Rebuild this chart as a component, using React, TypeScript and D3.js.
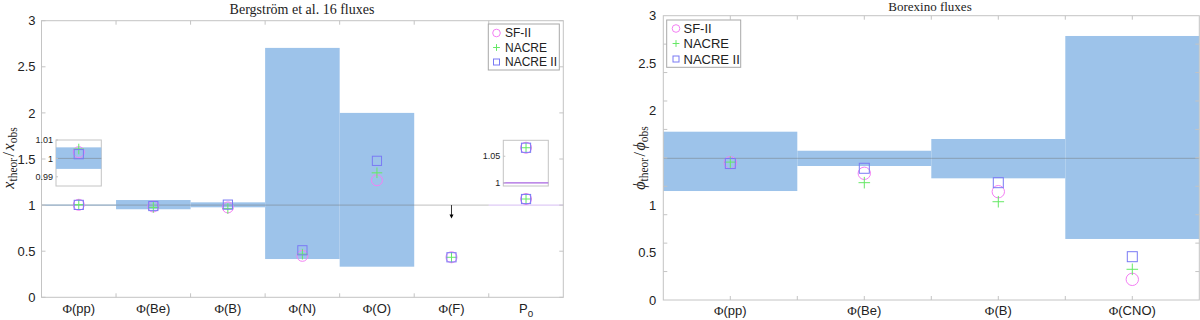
import React from "react";
import * as d3 from "d3";

// ---------- data: left panel (Bergström et al. 16 fluxes) ----------
const leftCats = ["pp", "Be", "B", "N", "O", "F", "P0"];
const leftSF2 = [1.0034, 0.985, 0.975, 0.45, 1.27, 0.434, 1.066];
const leftNACRE = [1.0051, 0.975, 0.962, 0.468, 1.35, 0.434, 1.066];
const leftNACRE2 = [1.0023, 0.99, 1.005, 0.51, 1.48, 0.434, 1.066];
const leftBandLow = [0.9943, 0.955, 0.976, 0.415, 0.332, null, null];
const leftBandHigh = [1.006, 1.055, 1.03, 2.705, 2.0, null, null];
const leftUpperLimit = { cat: 6, from: 1.0, to: 0.855 };
const leftYTicks = [0, 0.5, 1, 1.5, 2, 2.5, 3];
const leftYTickLabels = ["0", "0.5", "1", "1.5", "2", "2.5", "3"];
const ppInsetTicks = [0.99, 1, 1.01];
const ppInsetTickLabels = ["0.99", "1", "1.01"];
const p0InsetTicks = [1, 1.05];
const p0InsetTickLabels = ["1", "1.05"];

// ---------- data: right panel (Borexino fluxes) ----------
const rightCats = ["pp", "Be", "B", "CNO"];
const rightSF2 = [1.449, 1.337, 1.143, 0.218];
const rightNACRE = [1.455, 1.238, 1.037, 0.324];
const rightNACRE2 = [1.44, 1.39, 1.238, 0.457];
const rightBandLow = [1.15, 1.414, 1.284, 0.644];
const rightBandHigh = [1.776, 1.575, 1.699, 2.786];
const rightRef = 1.495;
const rightYTickLabelValues = [0, 0.5, 1, 2, 2.5, 3];
const rightYTickLabels = ["0", "0.5", "1", "2", "2.5", "3"];
const rightYTickMarks = [0.3, 0.6, 0.9, 1.2, 1.5, 1.8, 2.1, 2.4, 2.7];

const seriesNames = ["SF-II", "NACRE", "NACRE II"];

const BAND = "#9dc3ea";
const C_CIRCLE = "#f47ff4";
const C_PLUS = "#66e866";
const C_SQUARE = "#7a7af4";
const FRAME = "#c4c4c4";
const TXT = "#222";
const SANS = "'Liberation Sans', Arial, Helvetica, sans-serif";
const SERIF = "'Liberation Serif', 'Times New Roman', serif";

type MProps = { x: number; y: number; s: number };
const Circle = ({ x, y, s }: MProps) => (
  <circle cx={x} cy={y} r={s} fill="none" stroke={C_CIRCLE} strokeWidth={1} />
);
const Plus = ({ x, y, s }: MProps) => (
  <path d={`M${x - s},${y}H${x + s}M${x},${y - s}V${y + s}`} stroke={C_PLUS} strokeWidth={1} fill="none" />
);
const Square = ({ x, y, s }: MProps) => (
  <rect x={x - s} y={y - s} width={2 * s} height={2 * s} fill="none" stroke={C_SQUARE} strokeWidth={1} />
);

function Markers({ x, ys, size }: { x: number; ys: number[]; size: number[] }) {
  return (
    <g>
      <Circle x={x} y={ys[0]} s={size[0]} />
      <Plus x={x} y={ys[1]} s={size[1]} />
      <Square x={x} y={ys[2]} s={size[2]} />
    </g>
  );
}

function Legend({ x, y, w, h, rowY, mx, tx, fs, size }: any) {
  return (
    <g>
      <rect x={x} y={y} width={w} height={h} fill="#fff" stroke="#a8a8a8" strokeWidth={1} />
      <Circle x={mx} y={rowY[0]} s={size[0]} />
      <Plus x={mx} y={rowY[1]} s={size[1]} />
      <Square x={mx} y={rowY[2]} s={size[2]} />
      {seriesNames.map((n, i) => (
        <text key={n} x={tx} y={rowY[i]} dy="0.36em" fontFamily={SANS} fontSize={fs} fill={TXT}>
          {n}
        </text>
      ))}
    </g>
  );
}

function CatLabel({ x, y, cat, fs }: { x: number; y: number; cat: string; fs: number }) {
  if (cat === "P0") {
    return (
      <text x={x} y={y} textAnchor="middle" fontFamily={SANS} fontSize={fs} fill={TXT}>
        P<tspan fontSize={fs * 0.75} dy={4}>0</tspan>
      </text>
    );
  }
  return (
    <text x={x} y={y} textAnchor="middle" fontFamily={SANS} fontSize={fs} fill={TXT}>
      <tspan fontFamily={SERIF}>Φ</tspan>({cat})
    </text>
  );
}

function YLabel({ x, y, sym }: { x: number; y: number; sym: string }) {
  return (
    <text transform={`translate(${x},${y}) rotate(-90)`} textAnchor="middle" fontFamily={SERIF} fill={TXT}>
      <tspan fontStyle="italic" fontSize={16}>{sym}</tspan>
      <tspan fontSize={11.5} dy={2.5}>theor</tspan>
      <tspan fontSize={16} dy={-2.5} dx={1.5}>/</tspan>
      <tspan fontStyle="italic" fontSize={16} dx={1.5}>{sym}</tspan>
      <tspan fontSize={11.5} dy={2.5}>obs</tspan>
    </text>
  );
}

function LeftPanel() {
  const x = d3.scaleLinear().domain([0.5, 7.5]).range([41.5, 563.3]);
  const y = d3.scaleLinear().domain([0, 3]).range([297.3, 20.7]);
  const [x0, x1] = x.range();
  const [yb, yt] = y.range();
  const bounds = d3.range(1.5, 7.5, 1);

  // insets
  const ppIn = { x0: 56, x1: 101.3 };
  const ppY = d3.scaleLinear().domain([0.985, 1.01]).range([186, 140]);
  const p0In = { x0: 503.3, x1: 548.3 };
  const p0Y = d3.scaleLinear().domain([0.994, 1.08]).range([186, 140.3]);

  return (
    <g>
      <text x={302} y={14} textAnchor="middle" fontFamily={SERIF} fontSize={14} fill={TXT}>
        Bergström et al. 16 fluxes
      </text>
      {/* bands */}
      {leftCats.map((c, i) =>
        leftBandLow[i] == null ? null : (
          <rect
            key={"b" + c}
            x={x(i + 0.5)}
            y={y(leftBandHigh[i] as number)}
            width={x(i + 1.5) - x(i + 0.5)}
            height={y(leftBandLow[i] as number) - y(leftBandHigh[i] as number)}
            fill={BAND}
          />
        )
      )}
      {/* reference line */}
      <line x1={x0} x2={x(6.5)} y1={y(1)} y2={y(1)} stroke="#707070" strokeOpacity={0.45} strokeWidth={1} />
      <line x1={x(6.5)} x2={x1} y1={y(1)} y2={y(1)} stroke="#c9a6ee" strokeOpacity={0.6} strokeWidth={1.3} />
      {/* frame */}
      <rect x={x0} y={yt} width={x1 - x0} height={yb - yt} fill="none" stroke={FRAME} strokeWidth={1} />
      {bounds.map((b) => (
        <g key={"xt" + b}>
          <line x1={x(b)} x2={x(b)} y1={yb} y2={yb - 4} stroke={FRAME} />
          <line x1={x(b)} x2={x(b)} y1={yt} y2={yt + 4} stroke={FRAME} />
        </g>
      ))}
      {leftYTicks.map((t, i) => (
        <g key={"yt" + t}>
          <line x1={x0} x2={x0 + 4} y1={y(t)} y2={y(t)} stroke={FRAME} />
          <line x1={x1} x2={x1 - 4} y1={y(t)} y2={y(t)} stroke={FRAME} />
          <text x={x0 - 6} y={y(t)} dy="0.36em" textAnchor="end" fontFamily={SANS} fontSize={13} fill={TXT}>
            {leftYTickLabels[i]}
          </text>
        </g>
      ))}
      {leftCats.map((c, i) => (
        <CatLabel key={"xl" + c} x={x(i + 1)} y={313} cat={c} fs={13} />
      ))}
      {/* upper limit arrow */}
      <line
        x1={x(leftUpperLimit.cat)}
        x2={x(leftUpperLimit.cat)}
        y1={y(leftUpperLimit.from)}
        y2={y(leftUpperLimit.to) - 3}
        stroke="#000"
        strokeWidth={0.8}
      />
      <path
        d={`M${x(leftUpperLimit.cat) - 2},${y(leftUpperLimit.to) - 4}L${x(leftUpperLimit.cat) + 2},${
          y(leftUpperLimit.to) - 4
        }L${x(leftUpperLimit.cat)},${y(leftUpperLimit.to)}Z`}
        fill="#000"
      />
      {/* markers */}
      {leftCats.map((c, i) => (
        <Markers
          key={"m" + c}
          x={x(i + 1)}
          ys={[y(leftSF2[i]), y(leftNACRE[i]), y(leftNACRE2[i])]}
          size={[5.5, 5.3, 4.6]}
        />
      ))}
      {/* pp inset */}
      <g>
        <rect x={ppIn.x0} y={ppY(1.01)} width={ppIn.x1 - ppIn.x0} height={ppY(0.985) - ppY(1.01)} fill="#fff" stroke={FRAME} />
        <rect
          x={ppIn.x0}
          y={ppY(leftBandHigh[0] as number)}
          width={ppIn.x1 - ppIn.x0}
          height={ppY(leftBandLow[0] as number) - ppY(leftBandHigh[0] as number)}
          fill={BAND}
        />
        <line x1={ppIn.x0} x2={ppIn.x1} y1={ppY(1)} y2={ppY(1)} stroke="#707070" strokeOpacity={0.45} />
        {ppInsetTicks.map((t, i) => (
          <g key={"pit" + t}>
            <line x1={ppIn.x0} x2={ppIn.x0 + 2} y1={ppY(t)} y2={ppY(t)} stroke={FRAME} />
            <text x={ppIn.x0 - 3} y={ppY(t)} dy="0.36em" textAnchor="end" fontFamily={SANS} fontSize={9} fill={TXT}>
              {ppInsetTickLabels[i]}
            </text>
          </g>
        ))}
        <Markers x={x(1)} ys={[ppY(leftSF2[0]), ppY(leftNACRE[0]), ppY(leftNACRE2[0])]} size={[5.5, 5.3, 4.6]} />
      </g>
      {/* P0 inset */}
      <g>
        <rect x={p0In.x0} y={p0Y(1.08)} width={p0In.x1 - p0In.x0} height={p0Y(0.994) - p0Y(1.08)} fill="#fff" stroke={FRAME} />
        <line x1={p0In.x0} x2={p0In.x1} y1={p0Y(1)} y2={p0Y(1)} stroke="#a865e0" strokeWidth={1.3} />
        {p0InsetTicks.map((t, i) => (
          <g key={"p0t" + t}>
            <line x1={p0In.x0} x2={p0In.x0 + 2} y1={p0Y(t)} y2={p0Y(t)} stroke={FRAME} />
            <text x={p0In.x0 - 3} y={p0Y(t)} dy="0.36em" textAnchor="end" fontFamily={SANS} fontSize={9} fill={TXT}>
              {p0InsetTickLabels[i]}
            </text>
          </g>
        ))}
        <Markers x={x(7)} ys={[p0Y(leftSF2[6]), p0Y(leftNACRE[6]), p0Y(leftNACRE2[6])]} size={[5.5, 5.3, 4.6]} />
      </g>
      <Legend x={488.3} y={24} w={71} h={46} rowY={[33, 47.5, 62]} mx={496.5} tx={505} fs={12} size={[3.8, 3.4, 3]} />
      <YLabel x={14} y={158} sym="x" />
    </g>
  );
}

function RightPanel() {
  const x = d3.scaleLinear().domain([0.5, 4.5]).range([663.3, 1199.3]);
  const y = d3.scaleLinear().domain([0, 3]).range([300, 15.7]);
  const [x0, x1] = x.range();
  const [yb, yt] = y.range();
  const xTicks = d3.range(1, 4.5, 0.5);
  return (
    <g>
      <text x={930} y={11} textAnchor="middle" fontFamily={SERIF} fontSize={13} fill={TXT}>
        Borexino fluxes
      </text>
      {rightCats.map((c, i) => (
        <rect
          key={"b" + c}
          x={x(i + 0.5)}
          y={y(rightBandHigh[i])}
          width={x(i + 1.5) - x(i + 0.5)}
          height={y(rightBandLow[i]) - y(rightBandHigh[i])}
          fill={BAND}
        />
      ))}
      <line x1={x0} x2={x1} y1={y(rightRef)} y2={y(rightRef)} stroke="#707070" strokeOpacity={0.45} />
      <rect x={x0} y={yt} width={x1 - x0} height={yb - yt} fill="none" stroke={FRAME} strokeWidth={1} />
      {xTicks.map((b) => (
        <g key={"xt" + b}>
          <line x1={x(b)} x2={x(b)} y1={yb} y2={yb - 4} stroke={FRAME} />
          <line x1={x(b)} x2={x(b)} y1={yt} y2={yt + 4} stroke={FRAME} />
        </g>
      ))}
      {rightYTickMarks.map((t) => (
        <g key={"ym" + t}>
          <line x1={x0} x2={x0 + 4} y1={y(t)} y2={y(t)} stroke={FRAME} />
          <line x1={x1} x2={x1 - 4} y1={y(t)} y2={y(t)} stroke={FRAME} />
        </g>
      ))}
      {rightYTickLabelValues.map((t, i) => (
        <text key={"yl" + t} x={x0 - 7} y={y(t)} dy="0.36em" textAnchor="end" fontFamily={SANS} fontSize={13} fill={TXT}>
          {rightYTickLabels[i]}
        </text>
      ))}
      {rightCats.map((c, i) => (
        <CatLabel key={"xl" + c} x={x(i + 1)} y={315} cat={c} fs={13} />
      ))}
      {rightCats.map((c, i) => (
        <Markers
          key={"m" + c}
          x={x(i + 1)}
          ys={[y(rightSF2[i]), y(rightNACRE[i]), y(rightNACRE2[i])]}
          size={[6.2, 5.8, 5]}
        />
      ))}
      <Legend x={666.7} y={20} w={74} h={47.3} rowY={[28.5, 43.5, 59]} mx={676} tx={683.5} fs={13} size={[3.8, 3.4, 3]} />
      <YLabel x={645} y={158} sym="ϕ" />
    </g>
  );
}

export default function App() {
  return (
    <svg
      width={1200}
      height={320}
      viewBox="0 0 1200 320"
      style={{ position: "absolute", left: 0, top: 0, background: "#fff" }}
    >
      <rect width={1200} height={320} fill="#fff" />
      <LeftPanel />
      <RightPanel />
    </svg>
  );
}
